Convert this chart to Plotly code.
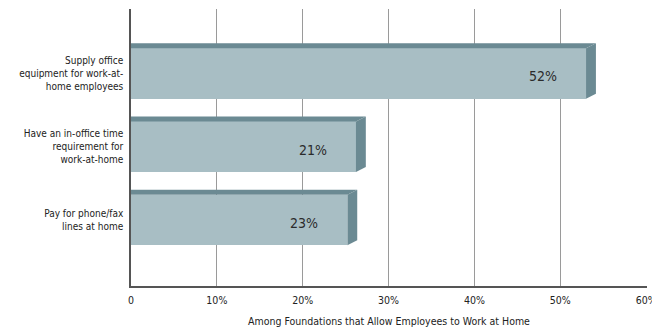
import plotly.graph_objects as go

categories = [
    "Supply office<br>equipment for work-at-<br>home employees",
    "Have an in-office time<br>requirement for<br>work-at-home",
    "Pay for phone/fax<br>lines at home",
]
value_labels = ["52%", "21%", "23%"]
bar_lengths = [53.0, 26.2, 25.2]  # bar lengths as drawn in the picture (% of axis)
x_ticks = [0, 10, 20, 30, 40, 50, 60]
x_tick_text = ["0", "10%", "20%", "30%", "40%", "50%", "60%"]
axis_title = "Among Foundations that Allow Employees to Work at Home"

FACE = "#a8bec4"
DARK = "#6b8a93"
FONT = "DejaVu Sans Condensed, Liberation Sans Narrow, Arial Narrow, Liberation Sans, sans-serif"

ypos = list(range(len(categories)))
W = 0.69      # front face height (category units)
DX = 1.15     # depth in x (%)
DY = 0.068    # depth in y (category units)

fig = go.Figure()
fig.add_trace(go.Bar(
    x=bar_lengths, y=ypos, orientation="h", width=W,
    marker=dict(color=FACE, line=dict(width=0)),
    hoverinfo="skip",
))

shapes = []
annotations = []
for yc, L, lab in zip(ypos, bar_lengths, value_labels):
    top = yc - W / 2
    bot = yc + W / 2
    shapes.append(dict(
        type="path", xref="x", yref="y", layer="above",
        path=f"M 0 {top} L 0 {top-DY} L {L+DX} {top-DY} L {L} {top} Z",
        fillcolor=DARK, line=dict(width=0)))
    shapes.append(dict(
        type="path", xref="x", yref="y", layer="above",
        path=f"M {L} {top} L {L+DX} {top-DY} L {L+DX} {bot-DY} L {L} {bot} Z",
        fillcolor=DARK, line=dict(width=0)))
    annotations.append(dict(
        x=L, y=yc, xref="x", yref="y", text=lab, showarrow=False,
        xanchor="right", xshift=-27, yshift=-3,
        font=dict(family=FONT, size=14, color="#2b2b2b")))

# page body has an 8px margin: size and margins compensate for it
fig.update_layout(
    width=652, height=322,
    margin=dict(l=123, r=13, t=1, b=44),
    paper_bgcolor="white", plot_bgcolor="white",
    showlegend=False, bargap=0,
    shapes=shapes, annotations=annotations,
    xaxis=dict(
        range=[0, 60.1], tickvals=x_ticks, ticktext=x_tick_text,
        showgrid=True, gridcolor="#9a9a9a", gridwidth=1,
        showline=True, linecolor="#555", linewidth=1.5,
        zeroline=False, ticks="", automargin=False, ticklabelstandoff=4,
        tickfont=dict(family=FONT, size=10.5, color="#222"),
        title=dict(text=axis_title, standoff=12,
                   font=dict(family=FONT, size=10.5, color="#222")),
        fixedrange=True,
    ),
    yaxis=dict(
        range=[2.90, -0.88], tickvals=ypos, ticktext=categories,
        showgrid=False, showline=True, linecolor="#555", linewidth=1.5,
        zeroline=False, ticks="", ticklabelstandoff=4, automargin=False,
        tickfont=dict(family=FONT, size=10, color="#222"),
        fixedrange=True,
    ),
)

fig.write_html("out.html")
